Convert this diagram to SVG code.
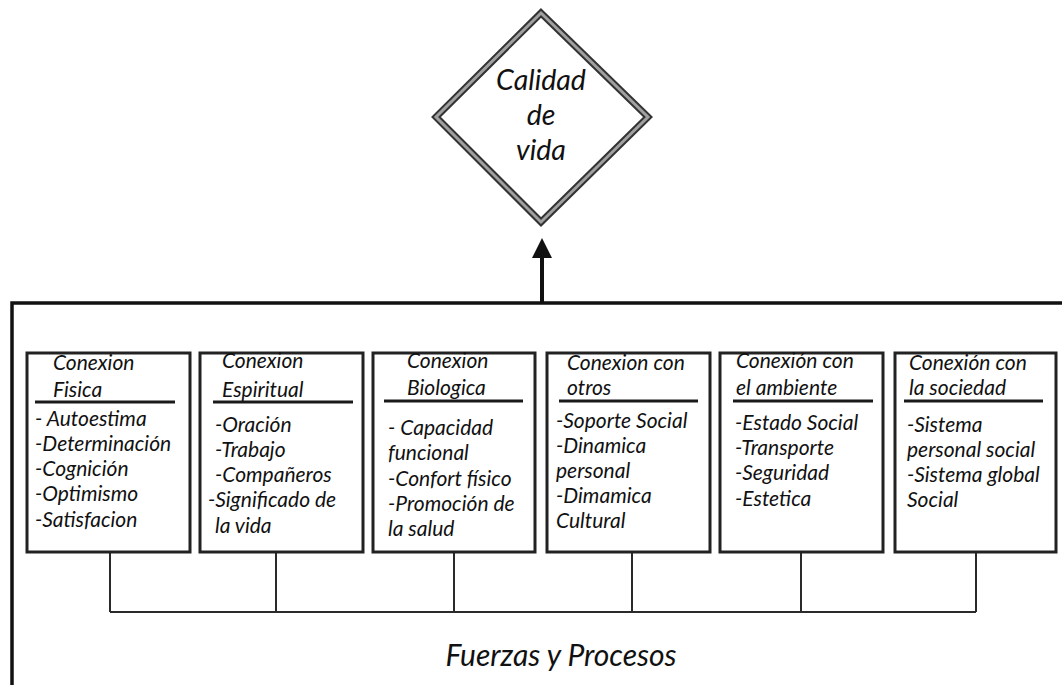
<svg xmlns="http://www.w3.org/2000/svg" width="1062" height="685" viewBox="0 0 1062 685">
<style>
.t{font-family:Lato,"Open Sans","Liberation Sans",sans-serif;font-style:italic;fill:#111;}
.h{font-size:21px;}
.i{font-size:21px;}
.box{fill:#fff;stroke:#222;stroke-width:3;}
.ul{stroke:#1a1a1a;stroke-width:3;}
.con{stroke:#2a2a2a;stroke-width:2;fill:none;}
.frame{stroke:#111;stroke-width:3.5;fill:none;}
</style>
<defs>
<marker id="ah" markerWidth="5" markerHeight="5" refX="2.5" refY="2.5" orient="auto" markerUnits="strokeWidth">
<path d="M0,0 L5,2.5 L0,5 z" fill="#111"/>
</marker>
</defs>
<rect width="1062" height="685" fill="#fff"/>
<g id="connectors">
<polyline class="frame" points="12,685 12,303 1062,303"/>
<line x1="542" y1="303" x2="542" y2="248" stroke="#111" stroke-width="4" marker-end="url(#ah)"/>
<path class="con" d="M110,552 V612 M276,552 V612 M454,552 V612 M632,552 V612 M801,552 V612 M976,552 V612 M110,612 H976"/>
</g>
<g id="calidad">
<polygon points="541,13 648,117 541,222 436,117" fill="#fff" stroke="#333" stroke-width="7"/>
<polygon points="541,13 648,117 541,222 436,117" fill="none" stroke="#a0a0a0" stroke-width="3"/>
<text class="t" x="541" y="90" font-size="28.5" text-anchor="middle">Calidad</text>
<text class="t" x="541" y="125" font-size="28.5" text-anchor="middle">de</text>
<text class="t" x="541" y="160" font-size="28.5" text-anchor="middle">vida</text>
</g>
<g id="fisica">
<rect class="box" x="27" y="353" width="163" height="199"/>
<line class="ul" x1="35" y1="402" x2="175" y2="402"/>
<text class="t h" x="53" y="370">Conexion</text>
<text class="t h" x="53" y="397">Fisica</text>
<text class="t i"><tspan x="35" y="426">- Autoestima</tspan><tspan x="35" y="451">-Determinación</tspan><tspan x="35" y="476">-Cognición</tspan><tspan x="35" y="501">-Optimismo</tspan><tspan x="35" y="527">-Satisfacion</tspan></text>
</g>
<g id="espiritual">
<rect class="box" x="200" y="353" width="163" height="199"/>
<line class="ul" x1="213" y1="402" x2="353" y2="402"/>
<text class="t h" x="222" y="368">Conexion</text>
<text class="t h" x="222" y="397">Espiritual</text>
<text class="t i"><tspan x="215" y="432">-Oración</tspan><tspan x="215" y="457">-Trabajo</tspan><tspan x="215" y="482">-Compañeros</tspan><tspan x="208" y="507">-Significado de</tspan><tspan x="215" y="533">la vida</tspan></text>
</g>
<g id="biologica">
<rect class="box" x="373" y="353" width="162" height="199"/>
<line class="ul" x1="384" y1="401" x2="523" y2="401"/>
<text class="t h" x="407" y="368">Conexion</text>
<text class="t h" x="407" y="395">Biologica</text>
<text class="t i"><tspan x="388" y="435">- Capacidad</tspan><tspan x="388" y="460">funcional</tspan><tspan x="388" y="486">-Confort físico</tspan><tspan x="388" y="511">-Promoción de</tspan><tspan x="388" y="536">la salud</tspan></text>
</g>
<g id="otros">
<rect class="box" x="547" y="353" width="163" height="199"/>
<line class="ul" x1="559" y1="401" x2="698" y2="401"/>
<text class="t h" x="567" y="370">Conexion con</text>
<text class="t h" x="567" y="395">otros</text>
<text class="t i"><tspan x="556" y="428">-Soporte Social</tspan><tspan x="556" y="453">-Dinamica</tspan><tspan x="556" y="478">personal</tspan><tspan x="556" y="503">-Dimamica</tspan><tspan x="556" y="528">Cultural</tspan></text>
</g>
<g id="ambiente">
<rect class="box" x="720" y="353" width="163" height="199"/>
<line class="ul" x1="733" y1="401" x2="873" y2="401"/>
<text class="t h" x="736" y="368">Conexión con</text>
<text class="t h" x="736" y="395">el ambiente</text>
<text class="t i"><tspan x="735" y="430">-Estado Social</tspan><tspan x="735" y="455">-Transporte</tspan><tspan x="735" y="480">-Seguridad</tspan><tspan x="735" y="506">-Estetica</tspan></text>
</g>
<g id="sociedad">
<rect class="box" x="895" y="353" width="161" height="199"/>
<line class="ul" x1="904" y1="401" x2="1043" y2="401"/>
<text class="t h" x="909" y="370">Conexión con</text>
<text class="t h" x="909" y="395">la sociedad</text>
<text class="t i"><tspan x="907" y="432">-Sistema</tspan><tspan x="907" y="457">personal social</tspan><tspan x="907" y="482">-Sistema global</tspan><tspan x="907" y="507">Social</tspan></text>
</g>
<g id="fuerzas">
<text class="t" x="561" y="666" font-size="30" fill="#222" text-anchor="middle">Fuerzas y Procesos</text>
</g>
</svg>
